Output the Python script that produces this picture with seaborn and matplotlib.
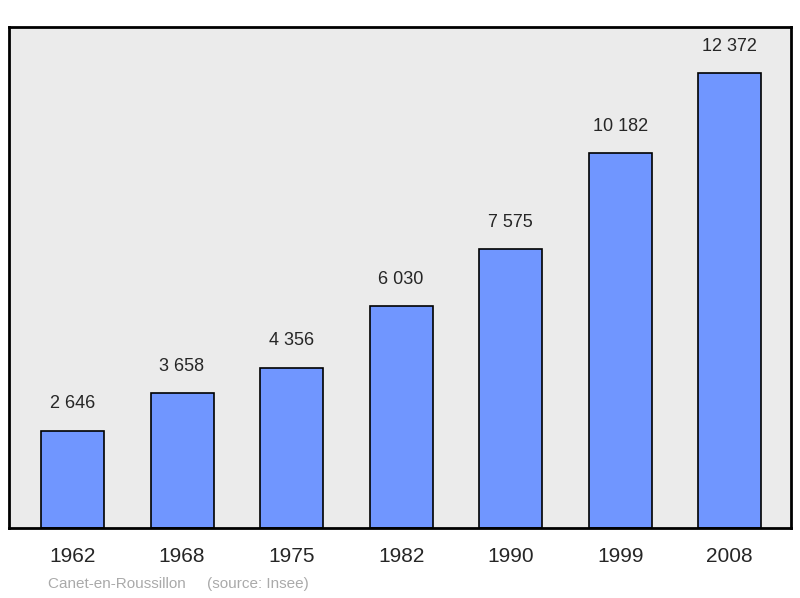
import matplotlib
matplotlib.use("Agg")
import matplotlib.pyplot as plt
import pandas as pd
import seaborn as sns

years = ["1962", "1968", "1975", "1982", "1990", "1999", "2008"]
population = [2646, 3658, 4356, 6030, 7575, 10182, 12372]
labels = ["2 646", "3 658", "4 356", "6 030", "7 575", "10 182", "12 372"]

df = pd.DataFrame({"year": years, "population": population})

sns.set_style("white")
plt.rcParams["font.family"] = ["Liberation Sans", "DejaVu Sans"]

fig = plt.figure(figsize=(8, 5.98), dpi=100)
ax = fig.add_axes([9 / 800, 1 - 528 / 598, 782 / 800, 501 / 598])
ax.set_facecolor("#ebebeb")

sns.barplot(data=df, x="year", y="population", color="#7096ff",
            edgecolor="black", linewidth=1.2, width=0.575, saturation=1, ax=ax)

for i, (v, lab) in enumerate(zip(population, labels)):
    ax.text(i, v + 500, lab, ha="center", va="bottom", fontsize=13)

ax.set_xlim(-0.58, 6.56)
ax.set_ylim(0, 13620)
ax.set_yticks([])
ax.set_xlabel("")
ax.set_ylabel("")
ax.tick_params(axis="x", length=0, labelsize=15, pad=14)
for s in ax.spines.values():
    s.set_linewidth(2)
    s.set_color("black")

fig.text(48 / 800, 1 - 584 / 598, "Canet-en-Roussillon     (source: Insee)",
         fontsize=11, color="#aaaaaa", va="center")

fig.savefig("out.png", dpi=100)
